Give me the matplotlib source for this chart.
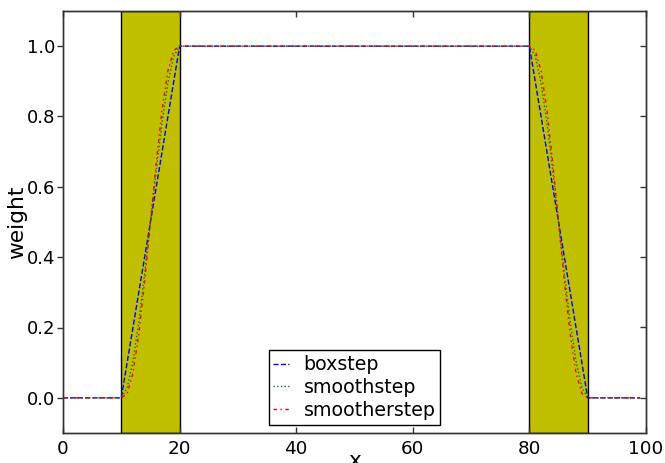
import matplotlib
matplotlib.use("Agg")
import matplotlib.pyplot as plt

# Data
x_pts = [0, 10, 11, 12, 13, 14, 15, 16, 17, 18, 19, 20,
         80, 81, 82, 83, 84, 85, 86, 87, 88, 89, 90, 99]
boxstep = [0, 0, 0.1, 0.2, 0.3, 0.4, 0.5, 0.6, 0.7, 0.8, 0.9, 1,
           1, 0.9, 0.8, 0.7, 0.6, 0.5, 0.4, 0.3, 0.2, 0.1, 0, 0]
smoothstep = [0, 0, 0.028, 0.104, 0.216, 0.352, 0.5, 0.648, 0.784, 0.896, 0.972, 1,
              1, 0.972, 0.896, 0.784, 0.648, 0.5, 0.352, 0.216, 0.104, 0.028, 0, 0]
smootherstep = [0, 0, 0.012, 0.07, 0.18, 0.33, 0.5, 0.67, 0.82, 0.93, 0.988, 1,
                1, 0.988, 0.93, 0.82, 0.67, 0.5, 0.33, 0.18, 0.07, 0.012, 0, 0]
spans = [(10, 20), (80, 90)]
labels = ["boxstep", "smoothstep", "smootherstep"]
xticks = [0, 20, 40, 60, 80, 100]
yticks = [0.0, 0.2, 0.4, 0.6, 0.8, 1.0]

plt.rcParams['font.family'] = ['DejaVu Sans']
plt.rcParams['font.size'] = 12.7

fig = plt.figure(figsize=(6.65, 4.63), dpi=100)
ax = fig.add_axes([63/665, 1 - 433/463, 583/665, 422/463])

for a, b in spans:
    ax.axvspan(a, b, facecolor=(0.75, 0.75, 0), edgecolor='black', linewidth=1.0, zorder=1)

ax.plot(x_pts, boxstep, '--', color='blue', lw=1.0, label=labels[0], zorder=3)
ax.plot(x_pts, smoothstep, ':', color='green', lw=1.0, label=labels[1], zorder=3)
ax.plot(x_pts, smootherstep, color='red', lw=1.0, dashes=(2.5, 2.5, 1, 2.5),
        label=labels[2], zorder=3)

ax.set_xlim(0, 100)
ax.set_ylim(-0.1, 1.1)
ax.set_xticks(xticks)
ax.set_yticks(yticks)
ax.set_xlabel('x', fontsize=15.7)
ax.set_ylabel('weight', fontsize=15.7)

ax.tick_params(axis='x', direction='in', top=True, length=4, width=1, color='#333333',
               labelsize=13.2, pad=5)
ax.tick_params(axis='y', direction='out', right=False, length=4, width=1, color='#333333',
               labelsize=13.0, pad=1.5)
ax2 = ax.twinx()
ax2.set_ylim(ax.get_ylim())
ax2.set_yticks(yticks)
ax2.tick_params(axis='y', direction='in', length=4, width=1, labelright=False, color='#333333')
for a_ in (ax, ax2):
    for sp in a_.spines.values():
        sp.set_color('#333333')
        sp.set_linewidth(1.0)

leg = ax.legend(loc='lower center', bbox_to_anchor=(0.5, 0.02), borderaxespad=0,
                fancybox=False, framealpha=1, edgecolor='black', handlelength=0.8,
                handletextpad=0.8, labelspacing=0.2, borderpad=0.25, fontsize=13.7)
leg.get_frame().set_linewidth(1.0)
leg.set_zorder(5)

ax.xaxis.set_label_coords(0.5, -0.043)
ax.yaxis.set_label_coords(-0.061, 0.5)
fig.savefig('out.png', dpi=100)
